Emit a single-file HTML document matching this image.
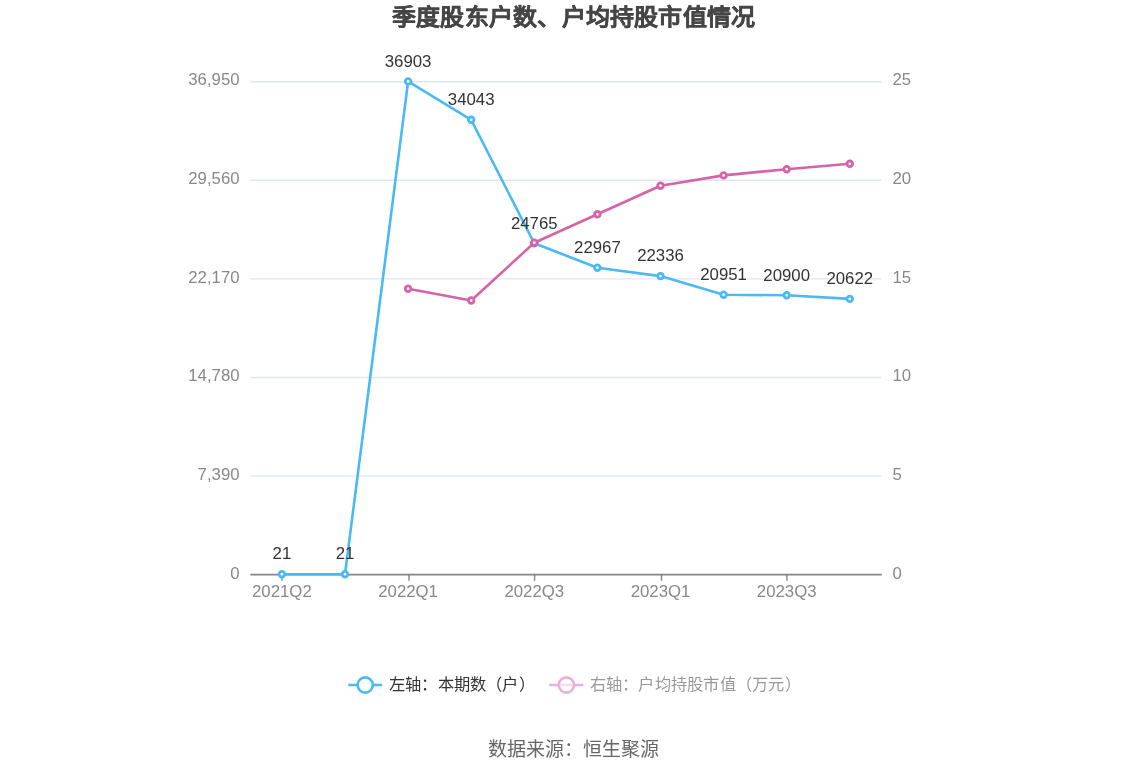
<!DOCTYPE html><html lang="zh-CN"><head><meta charset="utf-8"><title>chart</title><style>
html,body{margin:0;padding:0;background:#fff;width:1148px;height:776px;overflow:hidden;}
svg{display:block;will-change:transform;font-family:"Liberation Sans",sans-serif;}
</style></head><body>
<svg width="1148" height="776" viewBox="0 0 1148 776">
<rect width="1148" height="776" fill="#fff"/>
<text x="573.5" y="25" text-anchor="middle" font-size="24" font-weight="bold" textLength="363" lengthAdjust="spacing" fill="#464646" stroke="#464646" stroke-width="0.4" transform="translate(0,25) scale(1,0.93) translate(0,-25)">季度股东户数、户均持股市值情况</text>
<line x1="250.35" y1="81.70" x2="881.35" y2="81.70" stroke="#e0e6f1" stroke-width="1.4"/>
<line x1="250.35" y1="180.30" x2="881.35" y2="180.30" stroke="#e0e6f1" stroke-width="1.4"/>
<line x1="250.35" y1="278.90" x2="881.35" y2="278.90" stroke="#e0e6f1" stroke-width="1.4"/>
<line x1="250.35" y1="377.50" x2="881.35" y2="377.50" stroke="#e0e6f1" stroke-width="1.4"/>
<line x1="250.35" y1="476.10" x2="881.35" y2="476.10" stroke="#e0e6f1" stroke-width="1.4"/>
<line x1="250.35" y1="574.7" x2="881.8" y2="574.7" stroke="#6e7079" stroke-width="1.8" stroke-opacity="0.85"/>
<line x1="281.95" y1="574.7" x2="281.95" y2="580.80" stroke="#6e7079" stroke-width="1.4" stroke-opacity="0.85"/>
<line x1="409.00" y1="574.7" x2="409.00" y2="580.80" stroke="#6e7079" stroke-width="1.4" stroke-opacity="0.85"/>
<line x1="534.60" y1="574.7" x2="534.60" y2="580.80" stroke="#6e7079" stroke-width="1.4" stroke-opacity="0.85"/>
<line x1="661.50" y1="574.7" x2="661.50" y2="580.80" stroke="#6e7079" stroke-width="1.4" stroke-opacity="0.85"/>
<line x1="786.90" y1="574.7" x2="786.90" y2="580.80" stroke="#6e7079" stroke-width="1.4" stroke-opacity="0.85"/>
<text x="239.6" y="85.00" text-anchor="end" font-size="16.8" fill="#888888">36,950</text>
<text x="239.6" y="184.00" text-anchor="end" font-size="16.8" fill="#888888">29,560</text>
<text x="239.6" y="283.00" text-anchor="end" font-size="16.8" fill="#888888">22,170</text>
<text x="239.6" y="380.90" text-anchor="end" font-size="16.8" fill="#888888">14,780</text>
<text x="239.6" y="480.00" text-anchor="end" font-size="16.8" fill="#888888">7,390</text>
<text x="239.6" y="579.00" text-anchor="end" font-size="16.8" fill="#888888">0</text>
<text x="892.5" y="85.00" text-anchor="start" font-size="16.8" fill="#888888">25</text>
<text x="892.5" y="184.00" text-anchor="start" font-size="16.8" fill="#888888">20</text>
<text x="892.5" y="283.00" text-anchor="start" font-size="16.8" fill="#888888">15</text>
<text x="892.5" y="380.90" text-anchor="start" font-size="16.8" fill="#888888">10</text>
<text x="892.5" y="480.00" text-anchor="start" font-size="16.8" fill="#888888">5</text>
<text x="892.5" y="579.00" text-anchor="start" font-size="16.8" fill="#888888">0</text>
<text x="281.90" y="597.2" text-anchor="middle" font-size="16.8" fill="#888888">2021Q2</text>
<text x="408.10" y="597.2" text-anchor="middle" font-size="16.8" fill="#888888">2022Q1</text>
<text x="534.30" y="597.2" text-anchor="middle" font-size="16.8" fill="#888888">2022Q3</text>
<text x="660.50" y="597.2" text-anchor="middle" font-size="16.8" fill="#888888">2023Q1</text>
<text x="786.70" y="597.2" text-anchor="middle" font-size="16.8" fill="#888888">2023Q3</text>
<polyline points="281.90,574.20 345.00,574.20 408.10,81.40 471.20,119.80 534.30,243.30 597.40,267.70 660.50,276.10 723.60,294.70 786.70,295.30 849.80,298.90" fill="none" stroke="#4bb9f2" stroke-width="2.6" stroke-linejoin="bevel"/>
<circle cx="281.90" cy="574.20" r="2.8" fill="#fff" stroke="#4bb9f2" stroke-width="2.8"/>
<circle cx="345.00" cy="574.20" r="2.8" fill="#fff" stroke="#4bb9f2" stroke-width="2.8"/>
<circle cx="408.10" cy="81.40" r="2.8" fill="#fff" stroke="#4bb9f2" stroke-width="2.8"/>
<circle cx="471.20" cy="119.80" r="2.8" fill="#fff" stroke="#4bb9f2" stroke-width="2.8"/>
<circle cx="534.30" cy="243.30" r="2.8" fill="#fff" stroke="#4bb9f2" stroke-width="2.8"/>
<circle cx="597.40" cy="267.70" r="2.8" fill="#fff" stroke="#4bb9f2" stroke-width="2.8"/>
<circle cx="660.50" cy="276.10" r="2.8" fill="#fff" stroke="#4bb9f2" stroke-width="2.8"/>
<circle cx="723.60" cy="294.70" r="2.8" fill="#fff" stroke="#4bb9f2" stroke-width="2.8"/>
<circle cx="786.70" cy="295.30" r="2.8" fill="#fff" stroke="#4bb9f2" stroke-width="2.8"/>
<circle cx="849.80" cy="298.90" r="2.8" fill="#fff" stroke="#4bb9f2" stroke-width="2.8"/>
<polyline points="408.10,288.70 471.20,300.50 534.30,242.70 597.40,214.30 660.50,185.70 723.60,175.40 786.70,169.20 849.80,163.80" fill="none" stroke="#d663a8" stroke-width="2.6" stroke-linejoin="bevel"/>
<circle cx="408.10" cy="288.70" r="2.8" fill="#fff" stroke="#d663a8" stroke-width="2.8"/>
<circle cx="471.20" cy="300.50" r="2.8" fill="#fff" stroke="#d663a8" stroke-width="2.8"/>
<circle cx="534.30" cy="242.70" r="2.8" fill="#fff" stroke="#d663a8" stroke-width="2.8"/>
<circle cx="597.40" cy="214.30" r="2.8" fill="#fff" stroke="#d663a8" stroke-width="2.8"/>
<circle cx="660.50" cy="185.70" r="2.8" fill="#fff" stroke="#d663a8" stroke-width="2.8"/>
<circle cx="723.60" cy="175.40" r="2.8" fill="#fff" stroke="#d663a8" stroke-width="2.8"/>
<circle cx="786.70" cy="169.20" r="2.8" fill="#fff" stroke="#d663a8" stroke-width="2.8"/>
<circle cx="849.80" cy="163.80" r="2.8" fill="#fff" stroke="#d663a8" stroke-width="2.8"/>
<text x="281.90" y="559.40" text-anchor="middle" font-size="16.8" fill="#333">21</text>
<text x="345.00" y="559.40" text-anchor="middle" font-size="16.8" fill="#333">21</text>
<text x="408.10" y="66.60" text-anchor="middle" font-size="16.8" fill="#333">36903</text>
<text x="471.20" y="105.00" text-anchor="middle" font-size="16.8" fill="#333">34043</text>
<text x="534.30" y="228.50" text-anchor="middle" font-size="16.8" fill="#333">24765</text>
<text x="597.40" y="252.90" text-anchor="middle" font-size="16.8" fill="#333">22967</text>
<text x="660.50" y="261.30" text-anchor="middle" font-size="16.8" fill="#333">22336</text>
<text x="723.60" y="279.90" text-anchor="middle" font-size="16.8" fill="#333">20951</text>
<text x="786.70" y="280.50" text-anchor="middle" font-size="16.8" fill="#333">20900</text>
<text x="849.80" y="284.10" text-anchor="middle" font-size="16.8" fill="#333">20622</text>
<line x1="348.2" y1="685" x2="382.2" y2="685" stroke="#4bb9f2" stroke-width="2.7"/>
<circle cx="365.2" cy="685" r="7.6" fill="#fff" stroke="#4bb9f2" stroke-width="2.6"/>
<text x="389" y="690" font-size="16.25" fill="#333" textLength="145.5" lengthAdjust="spacing">左轴：本期数（户）</text>
<g opacity="0.5">
<line x1="549.3" y1="685" x2="583.3" y2="685" stroke="#d663a8" stroke-width="2.7"/>
<circle cx="566.4" cy="685" r="7.6" fill="#fff" fill-opacity="0.6" stroke="#d663a8" stroke-width="2.6"/>
<text x="589.5" y="690" font-size="16.25" fill="#333" textLength="211" lengthAdjust="spacing">右轴：户均持股市值（万元）</text>
</g>
<text x="573" y="756" text-anchor="middle" font-size="19" fill="#666">数据来源：恒生聚源</text>
</svg></body></html>
